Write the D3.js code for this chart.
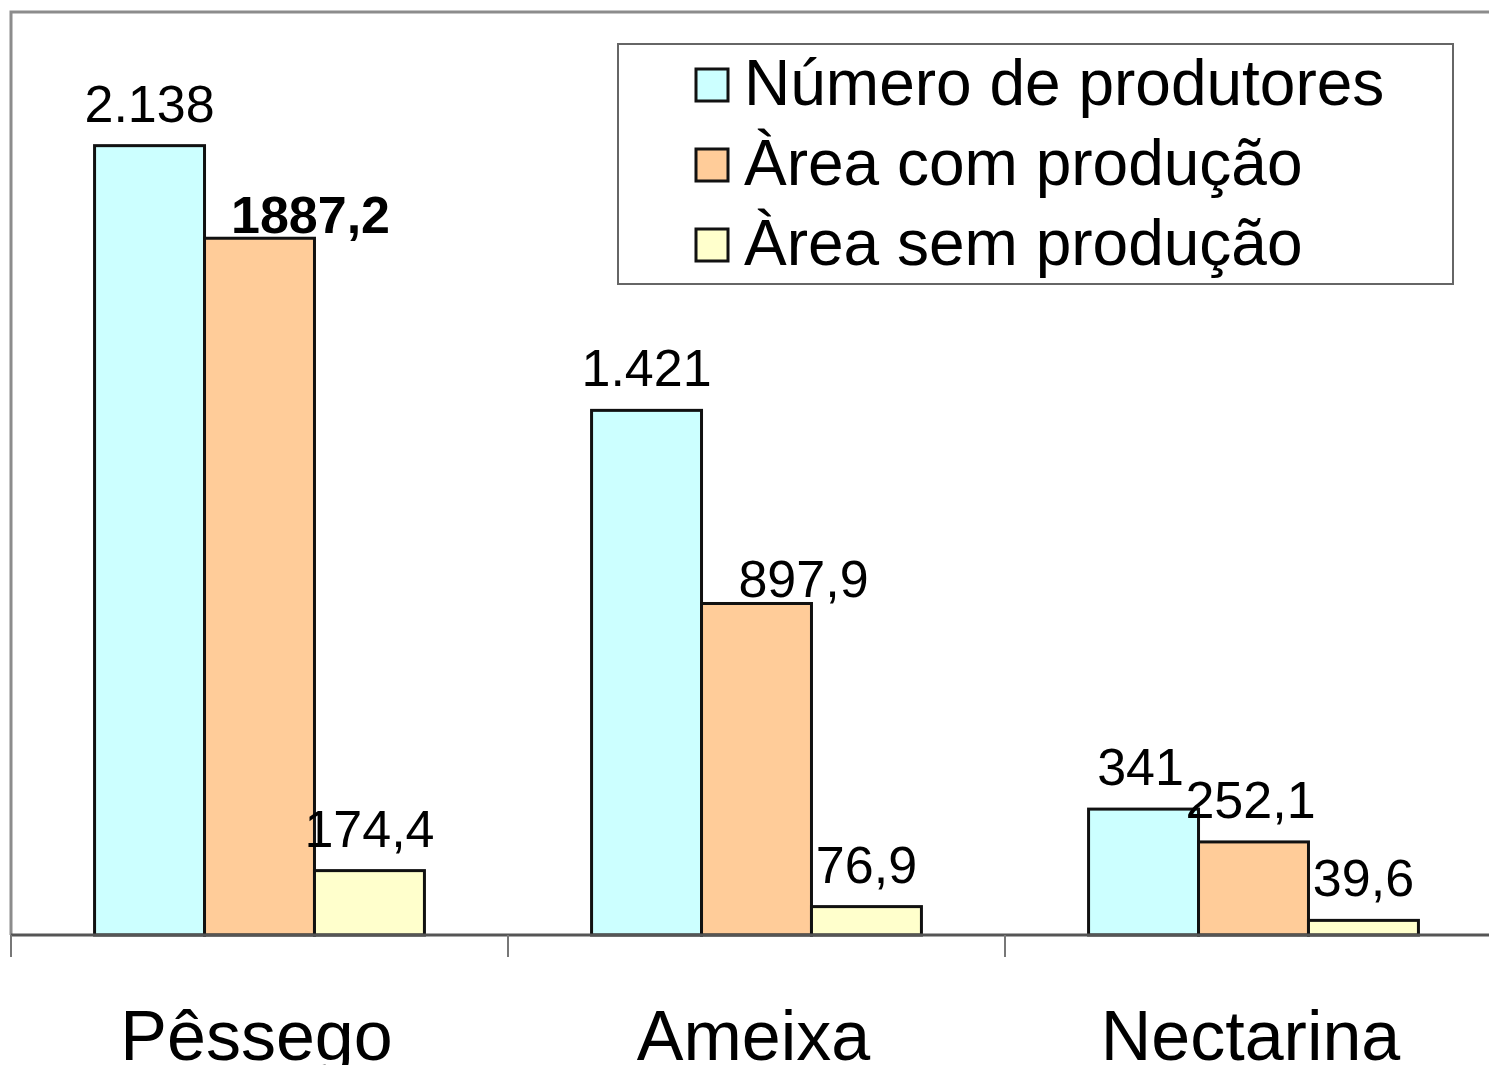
<!DOCTYPE html>
<html>
<head>
<meta charset="utf-8">
<script src="https://cdn.jsdelivr.net/npm/d3@7"></script>
<style>
  html, body { margin: 0; padding: 0; background: #fff; overflow: hidden; }
  svg { display: block; font-family: "Liberation Sans", Arial, sans-serif; }
</style>
</head>
<body>
<svg id="chart" width="1489" height="1065"></svg>
<script>
const categories = ["Pêssego", "Ameixa", "Nectarina"];
const seriesNames = ["Número de produtores", "Àrea com produção", "Àrea sem produção"];
const numeroProdutores = [2138, 1421, 341];
const areaComProducao = [1887.2, 897.9, 252.1];
const areaSemProducao = [174.4, 76.9, 39.6];
const valueLabels = [
  ["2.138", "1887,2", "174,4"],
  ["1.421", "897,9", "76,9"],
  ["341", "252,1", "39,6"]
];
const seriesColors = ["#CCFFFF", "#FFCC99", "#FFFFCC"];
// manual label nudges (as in the original spreadsheet chart)
const labelNudges = [
  [[0, 0], [51, 19], [0, 0]],
  [[0, 0], [47, 18], [0, 0]],
  [[-3, 0], [-3, 0], [0, 0]]
];
const boldLabels = [[false, true, false], [false, false, false], [false, false, false]];

const seriesValues = [numeroProdutores, areaComProducao, areaSemProducao];

const svg = d3.select("#chart");
const W = 1489, H = 1065;
const plotLeft = 11, plotTop = 12, baseY = 935;
const plotRight = plotLeft + 3 * 497;

const x = d3.scaleBand().domain(categories).range([plotLeft, plotRight]).padding(0);
const x1 = d3.scaleBand().domain(d3.range(3)).range([0, x.bandwidth()]).paddingInner(0).paddingOuter(0.76);
const y = d3.scaleLinear().domain([0, 2500]).range([baseY, plotTop]);

svg.append("rect").attr("width", W).attr("height", H).attr("fill", "#fff");

// plot area border (top & left)
svg.append("path")
  .attr("d", `M${plotLeft},${baseY} V${plotTop} H${W + 5}`)
  .attr("fill", "none").attr("stroke", "#8c8c8c").attr("stroke-width", 3);

// bars
const groups = svg.append("g").selectAll("g")
  .data(categories).join("g")
  .attr("transform", d => `translate(${x(d)},0)`);

groups.each(function(cat, ci) {
  const g = d3.select(this);
  seriesValues.forEach((vals, si) => {
    const v = vals[ci];
    g.append("rect")
      .attr("x", x1(si))
      .attr("y", y(v))
      .attr("width", x1.bandwidth())
      .attr("height", y(0) - y(v))
      .attr("fill", seriesColors[si])
      .attr("stroke", "#111")
      .attr("stroke-width", 3);
  });
});

// x axis
const xAxis = d3.axisBottom(x).tickSize(0).tickFormat("");
const ax = svg.append("g").attr("transform", `translate(0,${baseY})`).call(xAxis);
ax.select(".domain").attr("d", `M${plotLeft},0H${W + 5}`).attr("stroke", "#555").attr("stroke-width", 3);
// category boundary ticks
svg.append("g").selectAll("line")
  .data(categories).join("line")
  .attr("x1", d => x(d)).attr("x2", d => x(d))
  .attr("y1", baseY).attr("y2", baseY + 22)
  .attr("stroke", "#777").attr("stroke-width", 2);

// category labels
svg.append("g").selectAll("text")
  .data(categories).join("text")
  .attr("x", d => x(d) + x.bandwidth() / 2 - 3)
  .attr("y", 1060)
  .attr("text-anchor", "middle")
  .attr("font-size", 70)
  .attr("fill", "#000")
  .text(d => d);

// value labels
groups.each(function(cat, ci) {
  const g = d3.select(this);
  seriesValues.forEach((vals, si) => {
    const v = vals[ci];
    const n = labelNudges[ci][si];
    g.append("text")
      .attr("x", x1(si) + x1.bandwidth() / 2 + n[0])
      .attr("y", y(v) - 24 + n[1])
      .attr("text-anchor", "middle")
      .attr("font-size", 52)
      .attr("font-weight", boldLabels[ci][si] ? "bold" : "normal")
      .attr("fill", "#000")
      .text(valueLabels[ci][si]);
  });
});

// legend
const lg = svg.append("g").attr("transform", "translate(618,44)");
lg.append("rect").attr("width", 835).attr("height", 240)
  .attr("fill", "#fff").attr("stroke", "#666").attr("stroke-width", 2);
const li = lg.selectAll("g.item").data(seriesNames).join("g")
  .attr("class", "item")
  .attr("transform", (d, i) => `translate(0,${i * 80})`);
li.append("rect").attr("x", 78).attr("y", 25).attr("width", 32).attr("height", 32)
  .attr("fill", (d, i) => seriesColors[i]).attr("stroke", "#111").attr("stroke-width", 3);
li.append("text").attr("x", 126).attr("y", 61)
  .attr("font-size", 64).attr("fill", "#000").text(d => d);
</script>
</body>
</html>
